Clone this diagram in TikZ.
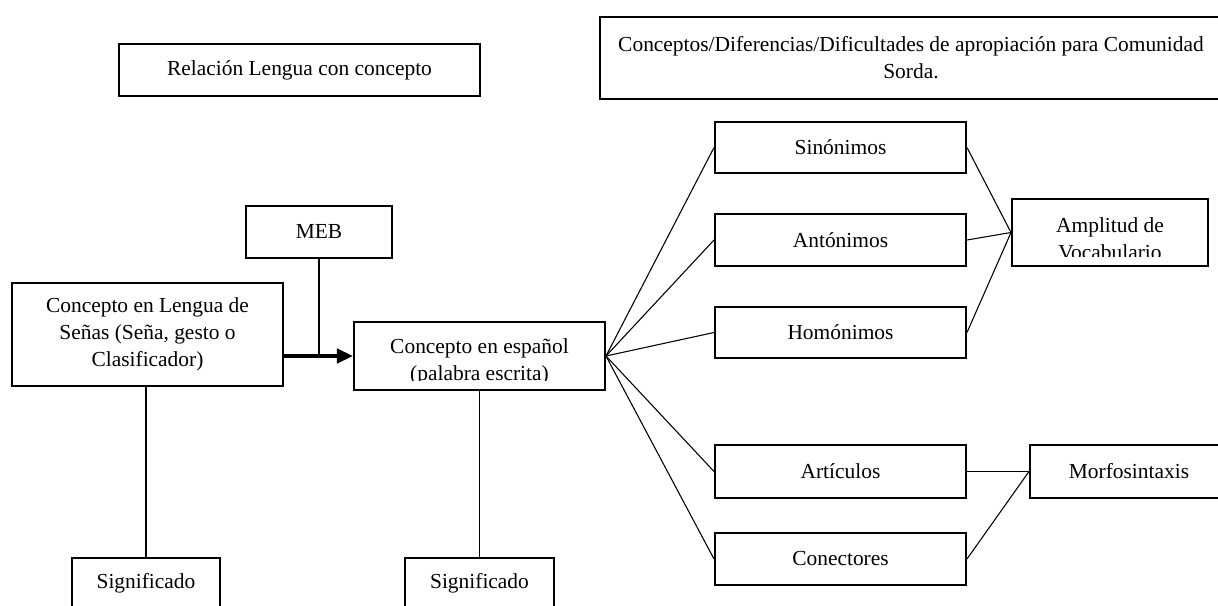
\documentclass[tikz,border=0pt]{standalone}
\usepackage{fontspec}
\setmainfont{Liberation Serif}
\usetikzlibrary{arrows.meta}
\begin{document}
\begin{tikzpicture}[x=0.56pt,y=-0.56pt]

    \tikzset{
      caja/.style 2 args={
        draw,
        line width=1.1pt,
        align=center,
        inner sep=0pt,
        minimum width=#1*0.56pt,
        minimum height=#2*0.56pt,
        font=\fontsize{12pt}{15pt}\selectfont,
      },
      texto/.style={
        align=center,
        inner sep=0pt,
        font=\fontsize{12pt}{15pt}\selectfont,
      },
      linea/.style={line width=0.6pt},
    }
    \useasboundingbox (0,0) rectangle (1218,606);
    \clip (0,0) rectangle (1218,606);
    \fill[white] (0,0) rectangle (1218,606);

	\node[caja={361}{52}] (relacion) at (299.5,70) {Relación Lengua con concepto};
	\node[caja={622}{82}] (titulo) at (911,58) {Conceptos/Diferencias/Dificultades de apropiación para Comunidad\\Sorda.};

	\node[caja={146}{52}] (meb) at (319,232) {MEB};
	\node[caja={271}{103}] (senas) at (147.5,334.5) {Concepto en Lengua de\\Señas (Seña, gesto o\\Clasificador)};
	\node[caja={251}{68}] (espanol) at (479.5,356) {};
	\begin{scope}
	  \clip (espanol.north west) rectangle ([yshift=6pt]espanol.south east);
	  \node[texto] (espanoltxt) at (479.5,362) {Concepto en español\\(palabra escrita)};
	\end{scope}
	\node[caja={148}{50}] (signif1) at (146,583) {Significado};
	\node[caja={149}{50}] (signif2) at (479.5,583) {Significado};

	\node[caja={251}{51}] (sinonimos) at (840.5,147.5) {Sinónimos};
	\node[caja={251}{52}] (antonimos) at (840.5,240) {Antónimos};
	\node[caja={251}{51}] (homonimos) at (840.5,332.5) {Homónimos};
	\node[caja={196}{67}] (amplitud) at (1110,232.5) {};
	\begin{scope}
	  \clip (amplitud.north west) rectangle ([yshift=5.6pt]amplitud.south east);
	  \node[texto] (amplitudtxt) at (1110,239) {Amplitud de\\Vocabulario};
	\end{scope}
	\node[caja={251}{53}] (articulos) at (840.5,471.5) {Artículos};
	\node[caja={251}{52}] (conectores) at (840.5,559) {Conectores};
	\node[caja={198}{53}] (morfo) at (1129,471.5) {Morfosintaxis};

	\coordinate (union) at (meb.south |- espanol.west);
	\draw[line width=2pt,-{Triangle[length=9pt,width=8pt]}] (senas.east |- espanol.west)--(espanol.west);
	\draw[linea] (meb.south)--(union);
	\draw[linea] (senas.south -| signif1.north)--(signif1.north);
	\draw[linea] (espanol.south)--(signif2.north);

	\draw[linea] (espanol.east)--(sinonimos.west);
	\draw[linea] (espanol.east)--(antonimos.west);
	\draw[linea] (espanol.east)--(homonimos.west);
	\draw[linea] (espanol.east)--(articulos.west);
	\draw[linea] (espanol.east)--(conectores.west);

	\draw[linea] (sinonimos.east)--(amplitud.west);
	\draw[linea] (antonimos.east)--(amplitud.west);
	\draw[linea] (homonimos.east)--(amplitud.west);
	\draw[linea] (articulos.east)--(morfo.west);
	\draw[linea] (conectores.east)--(morfo.west);

\end{tikzpicture}
\end{document}
